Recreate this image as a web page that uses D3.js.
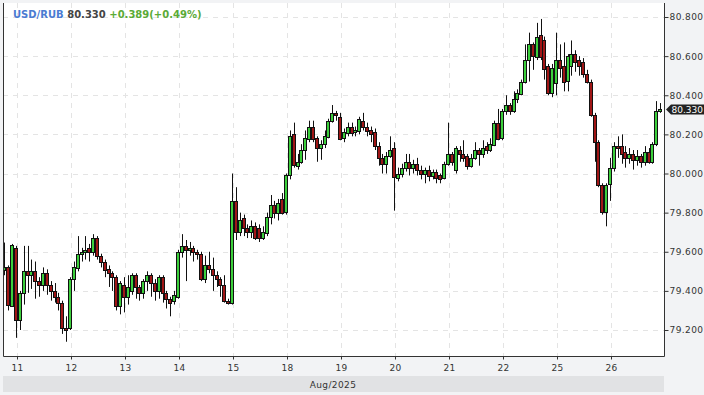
<!DOCTYPE html>
<html>
<head>
<meta charset="utf-8">
<script src="https://cdn.jsdelivr.net/npm/d3@7"></script>
<style>
body { margin: 0; background: #f2f3f5; }
svg { display: block; font-family: "DejaVu Sans", Verdana, sans-serif; }
</style>
</head>
<body>
<svg id="chart" width="704" height="395"></svg>
<script>
// header
const symbol = "USD/RUB", lastPrice = 80.330, change = "+0.389(+0.49%)";
const monthLabel = "Aug/2025";

// one label per trading day (tick at the first bar of the day)
const dayLabels = ["11", "12", "13", "14", "15", "18", "19", "20", "21", "22", "25", "26"];
const yTicks = [79.2, 79.4, 79.6, 79.8, 80.0, 80.2, 80.4, 80.6, 80.8];

// bars as [open, high, low, close]
const aug08 = [[79.505,79.647,79.48,79.52],[79.52,79.53,79.30,79.325],[79.325,79.64,79.32,79.637]];
const aug11 = [[79.62,79.63,79.16,79.25],[79.25,79.40,79.20,79.39],[79.39,79.63,79.33,79.50],[79.50,79.63,79.39,79.48],
	[79.48,79.56,79.41,79.50],[79.50,79.55,79.36,79.45],[79.45,79.47,79.37,79.43],[79.43,79.52,79.40,79.49],
	[79.49,79.51,79.38,79.43],[79.43,79.45,79.35,79.40],[79.40,79.44,79.34,79.37],[79.37,79.39,79.30,79.34],
	[79.34,79.35,79.18,79.21],[79.21,79.27,79.14,79.20]];
const aug12 = [[79.21,79.47,79.20,79.46],[79.46,79.55,79.40,79.52],[79.52,79.68,79.50,79.59],[79.59,79.62,79.55,79.60],
	[79.60,79.68,79.56,79.61],[79.62,79.64,79.55,79.60],[79.60,79.69,79.58,79.67],[79.67,79.68,79.56,79.58],
	[79.58,79.59,79.52,79.55],[79.55,79.56,79.47,79.51],[79.51,79.53,79.42,79.49],[79.49,79.50,79.40,79.47],
	[79.47,79.48,79.30,79.32],[79.32,79.45,79.28,79.44]];
const aug13 = [[79.43,79.47,79.29,79.37],[79.37,79.48,79.33,79.42],[79.40,79.49,79.38,79.48],[79.48,79.49,79.36,79.42],
	[79.42,79.43,79.35,79.39],[79.39,79.46,79.36,79.45],[79.45,79.50,79.40,79.48],[79.48,79.49,79.37,79.44],
	[79.44,79.46,79.35,79.40],[79.40,79.48,79.36,79.47],[79.47,79.48,79.34,79.39],[79.39,79.40,79.31,79.36],
	[79.36,79.37,79.27,79.34],[79.35,79.40,79.33,79.38]];
const aug14 = [[79.37,79.61,79.36,79.60],[79.60,79.69,79.57,79.63],[79.63,79.66,79.45,79.61],[79.61,79.65,79.58,79.62],
	[79.62,79.63,79.55,79.60],[79.60,79.61,79.56,79.59],[79.59,79.60,79.45,79.46],[79.46,79.58,79.44,79.53],
	[79.53,79.60,79.49,79.51],[79.51,79.57,79.40,79.48],[79.48,79.50,79.42,79.46],[79.46,79.47,79.37,79.43],
	[79.43,79.48,79.34,79.35],[79.35,79.36,79.33,79.34]];
const aug15 = [[79.34,80.00,79.33,79.86],[79.86,79.93,79.66,79.70],[79.70,79.80,79.68,79.76],[79.77,79.79,79.68,79.72],
	[79.72,79.74,79.67,79.70],[79.70,79.76,79.67,79.73],[79.73,79.75,79.66,79.67],[79.72,79.74,79.65,79.67],
	[79.67,79.73,79.66,79.70],[79.70,79.80,79.68,79.78],[79.78,79.89,79.74,79.84],[79.84,79.86,79.77,79.80],
	[79.80,79.87,79.76,79.85],[79.87,79.90,79.79,79.80]];
const aug18 = [[79.80,80.00,79.79,79.99],[79.99,80.22,79.97,80.19],[80.20,80.26,80.03,80.04],[80.04,80.10,80.02,80.06],
	[80.06,80.15,80.05,80.12],[80.12,80.22,80.07,80.18],[80.18,80.27,80.16,80.24],[80.24,80.27,80.16,80.18],
	[80.18,80.19,80.06,80.13],[80.13,80.17,80.07,80.15],[80.15,80.22,80.13,80.19],[80.19,80.28,80.18,80.27],
	[80.27,80.35,80.26,80.31],[80.31,80.32,80.27,80.30]];
const aug19 = [[80.29,80.31,80.17,80.18],[80.18,80.23,80.16,80.21],[80.21,80.26,80.19,80.24],[80.24,80.26,80.19,80.21],
	[80.21,80.24,80.19,80.22],[80.22,80.29,80.20,80.28],[80.27,80.31,80.22,80.24],[80.24,80.26,80.19,80.22],
	[80.22,80.24,80.16,80.20],[80.21,80.23,80.12,80.14],[80.14,80.16,80.04,80.08],[80.08,80.10,80.00,80.05],
	[80.05,80.11,80.00,80.09],[80.09,80.19,80.08,80.12]];
const aug20 = [[80.13,80.16,79.81,79.98],[79.98,80.03,79.96,80.00],[80.00,80.05,79.98,80.03],[80.03,80.10,80.01,80.06],
	[80.06,80.10,79.99,80.03],[80.03,80.07,80.00,80.05],[80.05,80.08,79.99,80.02],[80.02,80.04,79.97,80.00],
	[80.00,80.03,79.95,80.02],[80.02,80.04,79.96,79.99],[79.99,80.02,79.97,80.01],[80.01,80.02,79.95,79.98],
	[79.99,80.00,79.95,79.97],[79.98,80.06,79.97,80.05]];
const aug21 = [[80.05,80.26,80.04,80.10],[80.10,80.11,80.04,80.06],[80.02,80.14,80.00,80.13],[80.12,80.14,80.06,80.10],
	[80.10,80.17,80.06,80.08],[80.09,80.10,80.02,80.04],[80.04,80.10,80.03,80.08],[80.08,80.16,80.07,80.12],
	[80.12,80.13,80.04,80.10],[80.10,80.17,80.08,80.13],[80.14,80.16,80.10,80.12],[80.12,80.18,80.11,80.15],
	[80.15,80.27,80.14,80.26],[80.26,80.33,80.17,80.18]];
const aug22 = [[80.18,80.33,80.17,80.32],[80.32,80.40,80.30,80.35],[80.35,80.36,80.30,80.32],[80.32,80.42,80.31,80.38],
	[80.38,80.43,80.36,80.41],[80.41,80.48,80.40,80.47],[80.47,80.66,80.46,80.58],[80.58,80.72,80.47,80.66],
	[80.66,80.67,80.53,80.60],[80.60,80.77,80.58,80.70],[80.71,80.79,80.58,80.60],[80.68,80.70,80.48,80.53],
	[80.55,80.56,80.40,80.41],[80.41,80.56,80.39,80.54]];
const aug25 = [[80.46,80.72,80.40,80.58],[80.58,80.66,80.49,80.54],[80.55,80.67,80.42,80.47],[80.47,80.61,80.42,80.60],
	[80.55,80.68,80.50,80.61],[80.61,80.63,80.52,80.57],[80.58,80.60,80.50,80.55],[80.57,80.59,80.49,80.51],
	[80.51,80.53,80.46,80.47],[80.47,80.48,80.29,80.30],[80.30,80.31,80.06,80.16],[80.16,80.17,79.93,79.94],
	[79.94,79.95,79.79,79.80],[79.80,79.95,79.73,79.94]];
const aug26 = [[79.95,80.08,79.86,80.03],[80.03,80.16,80.01,80.14],[80.14,80.19,80.08,80.13],[80.14,80.20,80.05,80.10],
	[80.11,80.14,80.03,80.08],[80.08,80.13,80.05,80.10],[80.10,80.12,80.02,80.07],[80.07,80.12,80.04,80.09],
	[80.09,80.10,80.03,80.06],[80.06,80.14,80.04,80.11],[80.11,80.13,80.05,80.06],[80.06,80.16,80.05,80.15],
	[80.15,80.37,80.14,80.32],[80.32,80.36,80.31,80.33]];

const days = [aug11, aug12, aug13, aug14, aug15, aug18, aug19, aug20, aug21, aug22, aug25, aug26];
const barsPerDay = 14;

// flatten to {t, o, h, l, c}, t measured in trading days from Aug 11
var bars = aug08.map((b, k) => ({ t: (k - aug08.length) / barsPerDay, o: b[0], h: b[1], l: b[2], c: b[3] }));
days.forEach((day, d) => day.forEach((b, k) => {
	bars.push({ t: d + k / barsPerDay, o: b[0], h: b[1], l: b[2], c: b[3] });
}));

const plot = { left: 3, right: 664, top: 3, bottom: 356 };

var svg = d3.select("#chart");

var x = d3.scaleLinear().domain([0, 12]).range([17, 17 + 54 * 12]),
	y = d3.scaleLinear().domain([79.2, 80.8]).range([330, 17]);

svg.append("rect")
	.attr("x", plot.left).attr("y", plot.top)
	.attr("width", plot.right - plot.left).attr("height", plot.bottom - plot.top)
	.attr("fill", "#fff");

// dashed grid
var grid = svg.append("g").attr("class", "grid")
	.attr("stroke", "#e4e4e4").attr("stroke-dasharray", "5,5");
grid.selectAll(".h").data(yTicks).enter().append("line")
	.attr("x1", plot.left).attr("x2", plot.right)
	.attr("y1", d => Math.round(y(d)) + 0.5).attr("y2", d => Math.round(y(d)) + 0.5);
grid.selectAll(".v").data(dayLabels).enter().append("line")
	.attr("x1", (d, i) => Math.round(x(i)) + 0.5).attr("x2", (d, i) => Math.round(x(i)) + 0.5)
	.attr("y1", plot.top).attr("y2", plot.bottom);

svg.append("clipPath").attr("id", "clip")
	.append("rect")
	.attr("x", plot.left).attr("y", plot.top)
	.attr("width", plot.right - plot.left).attr("height", plot.bottom - plot.top);

var candles = svg.append("g").attr("clip-path", "url(#clip)");
var g = candles.selectAll(".bar").data(bars).enter().append("g").attr("class", "bar");
g.append("line")
	.attr("x1", d => Math.round(x(d.t)) - 0.5).attr("x2", d => Math.round(x(d.t)) - 0.5)
	.attr("y1", d => y(d.h)).attr("y2", d => y(d.l))
	.attr("stroke", "#111");
g.append("rect")
	.attr("x", d => Math.round(x(d.t)) - 2.5)
	.attr("width", 3)
	.attr("y", d => Math.round(y(Math.max(d.o, d.c))) + 0.5)
	.attr("height", d => Math.max(1, Math.round(Math.abs(y(d.o) - y(d.c)))))
	.attr("fill", d => d.c >= d.o ? "#3ccf3c" : "#a01616")
	.attr("stroke", "#111");

// frame
svg.append("path")
	.attr("d", `M${plot.left + 0.5},${plot.top}V${plot.bottom + 0.5}H${plot.right + 0.5}V${plot.top}`)
	.attr("fill", "none").attr("stroke", "#333");

var yAxis = d3.axisRight(y).tickValues(yTicks).tickFormat(d3.format(".3f")).tickSize(4).tickPadding(1);
svg.append("g")
	.attr("transform", `translate(${plot.right + 0.5},0)`)
	.call(yAxis)
	.call(s => s.select(".domain").remove())
	.call(s => s.selectAll("line").attr("stroke", "#333"))
	.call(s => s.selectAll("text").attr("fill", "#333").attr("font-size", "9px")
		.attr("font-family", "DejaVu Sans").attr("letter-spacing", "0.4px"));

var xAxis = d3.axisBottom(x).tickValues(d3.range(dayLabels.length))
	.tickFormat(i => dayLabels[i]).tickSize(3).tickPadding(5);
svg.append("g")
	.attr("transform", `translate(0,${plot.bottom + 0.5})`)
	.call(xAxis)
	.call(s => s.select(".domain").remove())
	.call(s => s.selectAll("line").attr("stroke", "#333"))
	.call(s => s.selectAll("text").attr("fill", "#333").attr("font-size", "9px")
		.attr("font-family", "DejaVu Sans").attr("letter-spacing", "0.4px"));

// month band
svg.append("rect")
	.attr("x", plot.left).attr("y", 376)
	.attr("width", plot.right - plot.left).attr("height", 16)
	.attr("fill", "#e1e2e4");
svg.append("text")
	.attr("x", 333).attr("y", 387.5)
	.attr("text-anchor", "middle")
	.attr("font-size", "9px").attr("fill", "#333").attr("letter-spacing", "0.4px")
	.text(monthLabel);

// last price tag
var py = Math.round(y(lastPrice)) + 0.5;
svg.append("path")
	.attr("d", `M${plot.right + 2},${py}L${plot.right + 7},${py - 5}H704V${py + 5}H${plot.right + 7}Z`)
	.attr("fill", "#222");
svg.append("text")
	.attr("x", 703).attr("y", py + 3.5)
	.attr("text-anchor", "end")
	.attr("font-size", "9px").attr("fill", "#fff")
	.text(d3.format(".3f")(lastPrice));

// title
var title = svg.append("text")
	.attr("x", 13).attr("y", 18)
	.attr("font-size", "10px").attr("font-weight", "bold");
title.append("tspan").attr("fill", "#4a7bd2").text(symbol);
title.append("tspan").attr("fill", "#444").text(" " + d3.format(".3f")(lastPrice));
title.append("tspan").attr("fill", "#5aaa36").text(" " + change);
</script>
</body>
</html>
